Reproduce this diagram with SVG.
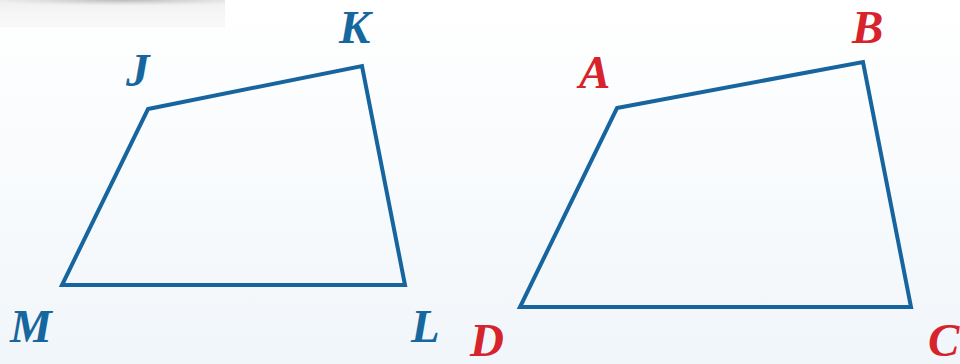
<svg xmlns="http://www.w3.org/2000/svg" width="960" height="364" viewBox="0 0 960 364">
<defs>
<linearGradient id="bg" x1="0" y1="0" x2="0" y2="1">
<stop offset="0" stop-color="#ffffff"/>
<stop offset="1" stop-color="#f1f6fa"/>
</linearGradient>
<radialGradient id="sh" cx="0.55" cy="0" r="0.6" gradientTransform="translate(0.55 0) scale(1 0.35) translate(-0.55 0)">
<stop offset="0" stop-color="#b8b8bc"/>
<stop offset="0.6" stop-color="#e4e4e6"/>
<stop offset="1" stop-color="#f8f8f9"/>
</radialGradient>
<linearGradient id="sh2" x1="0" y1="0" x2="0" y2="1">
<stop offset="0" stop-color="#c9c9cc"/>
<stop offset="0.5" stop-color="#efeff0"/>
<stop offset="1" stop-color="#f8f8f9"/>
</linearGradient>
</defs>
<style>
.q{fill:none;stroke:#17659f;stroke-width:4;stroke-linejoin:miter}
.lb{font-family:"Liberation Serif","Times New Roman",serif;font-weight:bold;font-style:italic;font-size:47px}
.blue{fill:#17679f}
.red{fill:#d7232c}
</style>
<rect width="960" height="364" fill="url(#bg)"/>
<rect x="0" y="0" width="225" height="27" fill="url(#sh2)"/>
<rect x="0" y="0" width="225" height="27" fill="url(#sh)" opacity="0.8"/>
<g id="quad-JKLM">
<polygon class="q" points="148,109 362,66 405,285 62,285"/>
</g>
<g id="quad-ABCD">
<polygon class="q" points="617,108 863,62 911,307 520,307"/>
</g>
<g id="label-J"><text class="lb blue" x="126" y="86">J</text></g>
<g id="label-K"><text class="lb blue" x="339" y="43">K</text></g>
<g id="label-L"><text class="lb blue" x="411" y="342">L</text></g>
<g id="label-M"><text class="lb blue" x="10" y="342">M</text></g>
<g id="label-A"><text class="lb red" x="579" y="88">A</text></g>
<g id="label-B"><text class="lb red" x="852" y="43">B</text></g>
<g id="label-C"><text class="lb red" x="928" y="356">C</text></g>
<g id="label-D"><text class="lb red" x="470" y="356">D</text></g>
</svg>
